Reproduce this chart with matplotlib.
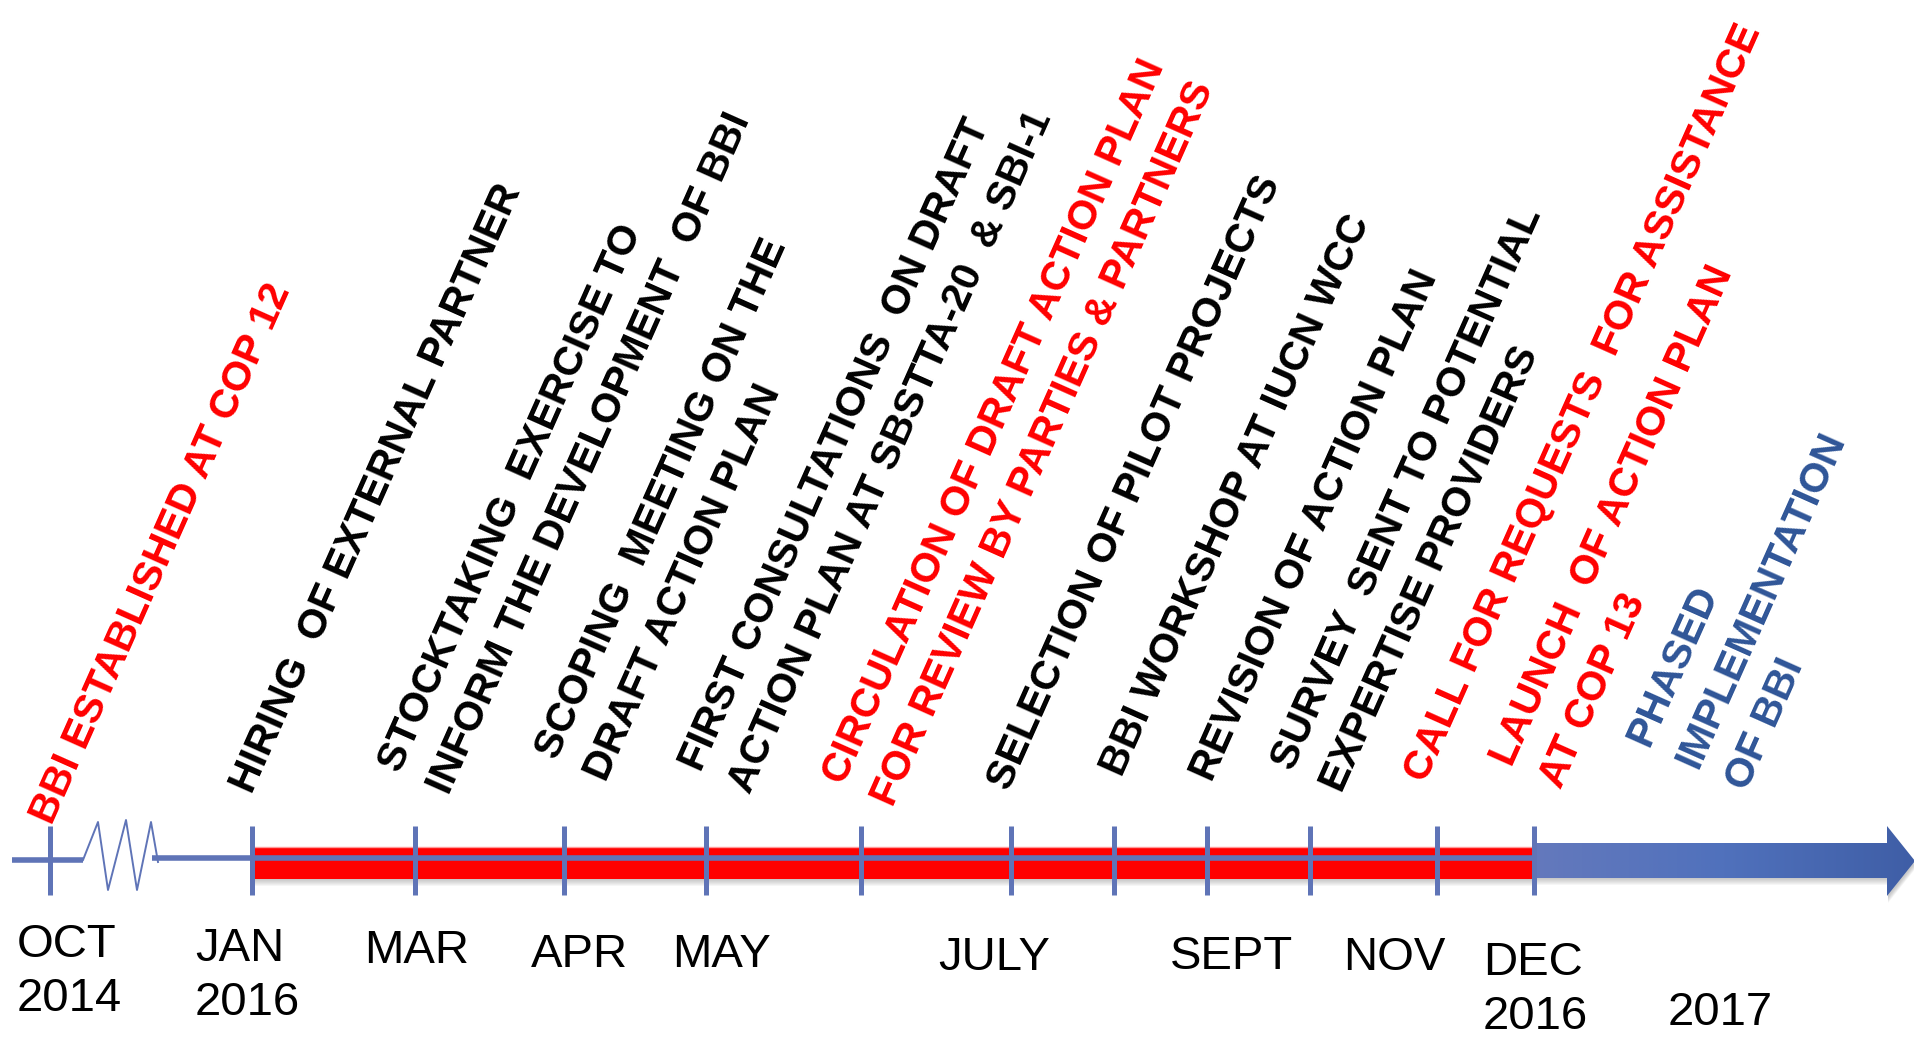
import numpy as np
import matplotlib.pyplot as plt
from matplotlib.patches import Rectangle, Polygon
from matplotlib.colors import LinearSegmentedColormap

plt.rcParams["font.family"] = ["Liberation Sans", "DejaVu Sans"]

# --- data -------------------------------------------------------------------
# tick marks along the timeline (pixel x along the drawing)
tick_x = [50, 252, 415, 564, 706, 861, 1011, 1114, 1207, 1310, 1437, 1534]

month_labels = ["OCT\n2014", "JAN\n2016", "MAR", "APR", "MAY", "JULY",
                "SEPT", "NOV", "DEC\n2016", "2017"]
month_left = [17, 195, 364, 531, 672, 938, 1170, 1343, 1483, 1668]
month_base = [957, 961, 963, 967, 967, 970, 969, 970, 975, 1025]

event_lines = [
    ["BBI ESTABLISHED AT COP 12"],
    ["HIRING  OF EXTERNAL PARTNER"],
    ["STOCKTAKING  EXERCISE TO", "INFORM THE DEVELOPMENT  OF BBI"],
    ["SCOPING  MEETING ON THE", "DRAFT ACTION PLAN"],
    ["FIRST CONSULTATIONS  ON DRAFT", "ACTION PLAN AT SBSTTA-20  & SBI-1"],
    ["CIRCULATION OF DRAFT ACTION PLAN", "FOR REVIEW BY PARTIES & PARTNERS"],
    ["SELECTION OF PILOT PROJECTS"],
    ["BBI WORKSHOP AT IUCN WCC"],
    ["REVISION OF ACTION PLAN"],
    ["SURVEY  SENT TO POTENTIAL", "EXPERTISE PROVIDERS"],
    ["CALL FOR REQUESTS  FOR ASSISTANCE"],
    ["LAUNCH  OF ACTION PLAN", "AT COP 13"],
    ["PHASED", "IMPLEMENTATION", "OF BBI"],
]
event_kind = ["key", "task", "task", "task", "task", "key", "task",
              "task", "task", "task", "key", "key", "future"]
# start of the first line of each label (lowest corner)
event_anchor = [(52, 826), (252, 795), (400, 774), (557, 761), (701, 773),
                (844, 786), (1009, 792), (1122, 778), (1212, 783),
                (1293, 772), (1426, 784), (1512, 768), (1648, 748)]

kind_color = {"key": "#ff0000", "task": "black", "future": "#2f5597"}

# --- layout -----------------------------------------------------------------
line_y = 858
axis_col = "#5f74b7"
angle = 66
step = 54

fig = plt.figure(figsize=(19.15, 10.4), dpi=100)
ax = fig.add_axes([0, 0, 1, 1])
ax.set_xlim(0, 1915)
ax.set_ylim(1040, 0)
ax.axis("off")

# drop shadows under the bar + arrow
x0, x1 = tick_x[1], tick_x[-1]
arrow_pts = [(x1, 843), (1887, 843), (1887, 826), (1915, 861),
             (1887, 896), (1887, 878), (x1, 878)]
for k in range(1, 8):
    a = 0.07
    ax.add_patch(Rectangle((x0 + 2, 847 + k), x1 - x0, 32, color="gray",
                           alpha=a, lw=0, zorder=1))
    ax.add_patch(Polygon([(x + 1, y + k) for x, y in arrow_pts], color="gray",
                         alpha=a, lw=0, zorder=1))

# red bar for 2016
ax.add_patch(Rectangle((x0, 847), x1 - x0, 32, color="#ff0000", lw=0, zorder=2))
ax.plot([x0, x1], [846.5, 846.5], color="#ff9a9a", lw=1, zorder=2)

# blue arrow for 2017 (gradient)
arrow = Polygon(arrow_pts, closed=True, facecolor="none", edgecolor="none")
ax.add_patch(arrow)
cmap = LinearSegmentedColormap.from_list("arr", ["#6479bc", "#5071bc", "#3f5ea6"])
im = ax.imshow(np.linspace(0, 1, 256).reshape(1, -1), cmap=cmap, aspect="auto",
               extent=[x1, 1915, 896, 826], zorder=3)
im.set_clip_path(arrow)
ax.set_xlim(0, 1915)
ax.set_ylim(1040, 0)

# axis line with break
ax.plot([12, 83], [860, 860], color=axis_col, lw=4, solid_capstyle="butt", zorder=4)
zz_x = [83, 98, 108, 126, 137, 151, 158]
zz_y = [860, 822, 890, 820, 890, 822, 862]
ax.plot(zz_x, zz_y, color=axis_col, lw=1.4, zorder=4)
ax.plot([152, x1], [line_y, line_y], color=axis_col, lw=4,
        solid_capstyle="butt", zorder=4)
ax.vlines(tick_x, 826, 895, color=axis_col, lw=3.6, zorder=5)

# month labels
for lab, lx, by in zip(month_labels, month_left, month_base):
    for i, part in enumerate(lab.split("\n")):
        ax.text(lx, by + 54 * i, part, fontsize=34, ha="left", va="baseline",
                color="black")

# event labels, rotated
px, py = np.sin(np.radians(angle)), np.cos(np.radians(angle))
for lines, kind, (ex, ey) in zip(event_lines, event_kind, event_anchor):
    for i, line in enumerate(lines):
        ax.text(ex + i * step * px, ey + i * step * py, line, rotation=angle,
                rotation_mode="anchor", ha="left", va="baseline",
                fontsize=29.5, fontweight="bold", color=kind_color[kind])

fig.savefig("out.png", dpi=100)
